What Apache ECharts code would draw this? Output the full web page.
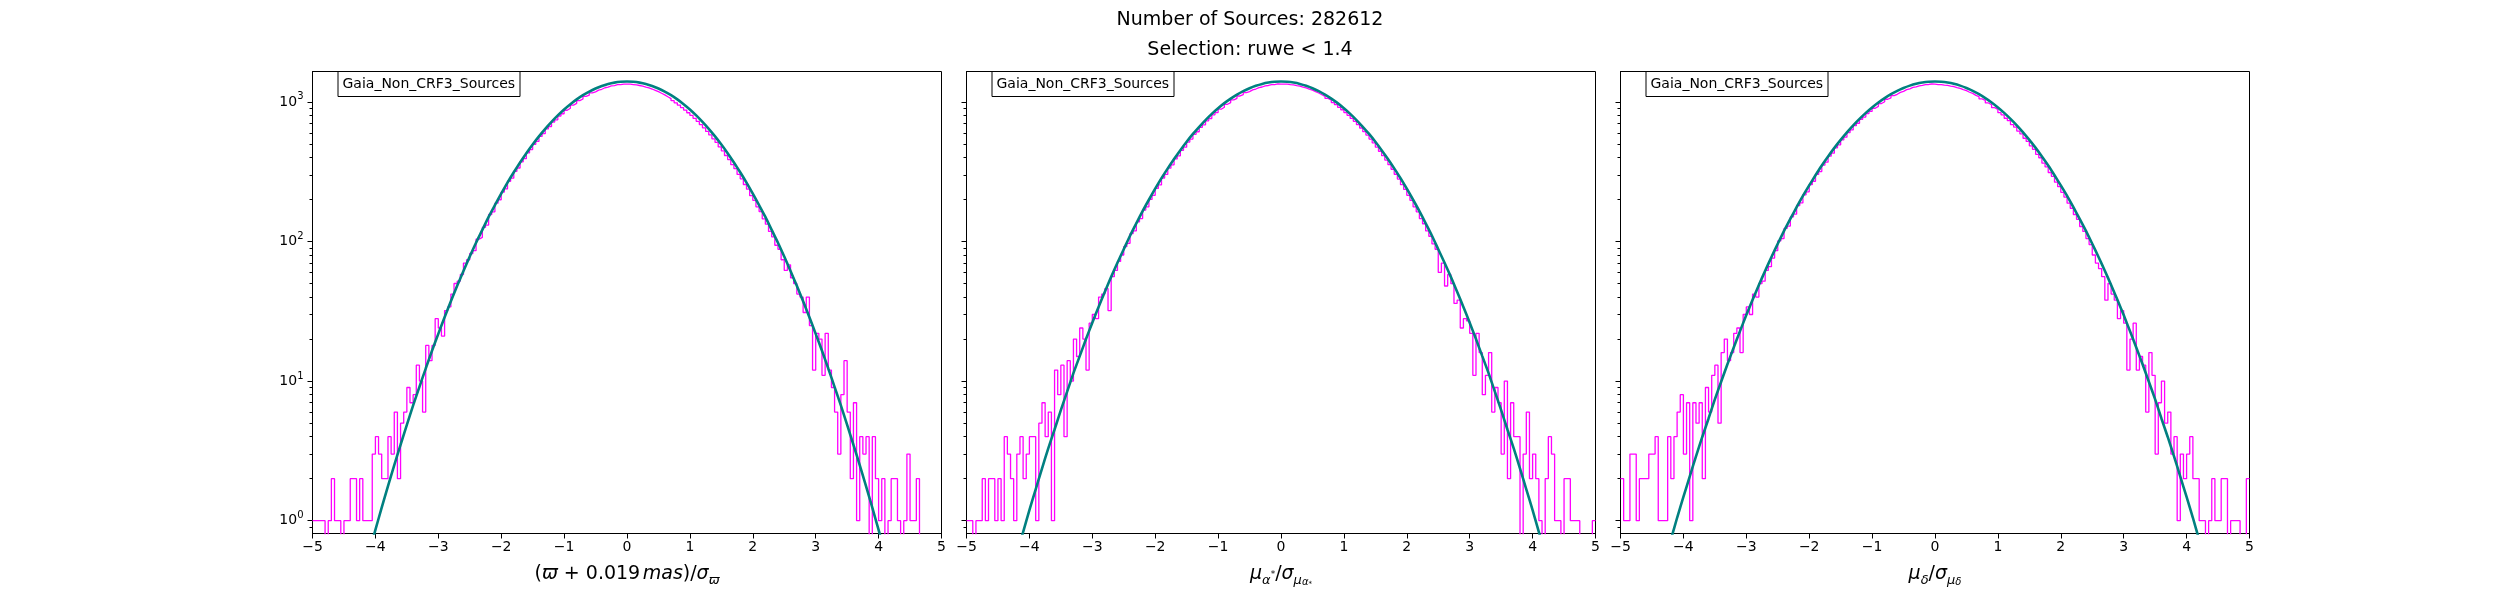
<!DOCTYPE html>
<html>
<head>
<meta charset="utf-8">
<script src="https://cdn.jsdelivr.net/npm/echarts@6/dist/echarts.min.js"></script>
<style>
  html, body { margin: 0; padding: 0; background: #fff; }
  #chart { width: 2500px; height: 600px; }
</style>
</head>
<body>
<div id="chart"></div>
<script>
// histogram range, bins are equal width between these edges
var binLo = -5, binHi = 5;
// fitted curve sampled from fitLo in steps of fitStep
var fitLo = -4.4, fitStep = 0.1;

var suptitleLines = ['Number of Sources: 282612', 'Selection: ruwe < 1.4'];
var boxLabel = 'Gaia_Non_CRF3_Sources';
var xTicks = [-5, -4, -3, -2, -1, 0, 1, 2, 3, 4, 5];
var yMajorTicks = [1, 10, 100, 1000];
var yMinorTicks = [0.9, 2, 3, 4, 5, 6, 7, 8, 9, 20, 30, 40, 50, 60, 70, 80, 90, 200, 300, 400, 500, 600, 700, 800, 900];

// counts per bin, panel 1: parallax
var parallaxCounts = [
  1, 1, 1, 1, 0, 1, 2, 1, 1, 0, 1, 1, 2, 2, 1, 2, 1, 1, 1, 3,
  4, 3, 2, 2, 4, 3, 6, 2, 5, 6, 9, 7, 8, 13, 10, 6, 18, 14, 18, 28,
  24, 21, 32, 34, 42, 50, 52, 58, 70, 74,
  82, 86, 104, 107, 126, 131, 156, 163, 188, 199, 226, 238, 270, 284, 318, 336, 372, 392, 431, 455,
  497, 521, 566, 592, 640, 666, 716, 744, 792, 822, 871, 900, 948, 975, 1022, 1049, 1093, 1117, 1158, 1179,
  1214, 1231, 1262, 1276, 1300, 1309, 1327, 1330, 1342, 1340,
  1338, 1331, 1322, 1310, 1296, 1277, 1259, 1236, 1210, 1183, 1152, 1123, 1088, 1055, 1020, 984, 949, 910, 874, 836,
  799, 762, 725, 688, 652, 614, 580, 544, 512, 476, 446, 413, 386, 355, 332, 302, 281, 256, 237, 213,
  197, 177, 164, 145, 133, 118, 108, 94, 88, 74,
  62, 68, 55, 50, 42, 40, 31, 40, 25, 12, 22, 20, 11, 22, 12, 9, 6, 3, 8, 14,
  6, 2, 7, 1, 4, 3, 4, 0, 4, 2, 1, 2, 0, 1, 2, 2, 1, 0, 1, 3,
  1, 1, 2, 0, 0, 0, 0, 0, 0, 0
];
// panel 2: proper motion in RA
var pmraCounts = [
  1, 1, 0, 1, 1, 2, 1, 2, 2, 1, 2, 1, 4, 3, 2, 1, 3, 4, 2, 3,
  4, 4, 1, 5, 7, 4, 6, 1, 12, 8, 13, 4, 14, 10, 20, 15, 24, 20, 12, 26,
  30, 28, 40, 42, 46, 32, 56, 62, 72, 80,
  92, 97, 114, 119, 138, 146, 168, 177, 200, 214, 240, 254, 285, 302, 335, 354, 390, 411, 450, 474,
  515, 541, 585, 611, 657, 685, 732, 760, 808, 838, 886, 915, 961, 988, 1034, 1060, 1102, 1125, 1163, 1185,
  1219, 1236, 1266, 1278, 1303, 1310, 1329, 1331, 1343, 1341,
  1339, 1338, 1330, 1324, 1309, 1298, 1277, 1260, 1234, 1213, 1183, 1157, 1124, 1095, 1059, 1027, 988, 954, 914, 878,
  838, 801, 761, 725, 686, 650, 612, 578, 541, 508, 474, 443, 412, 383, 355, 329, 303, 280, 255, 236,
  214, 197, 177, 163, 146, 134, 119, 109, 96, 88,
  60, 70, 48, 58, 50, 36, 38, 24, 28, 27, 22, 11, 22, 16, 8, 11, 16, 6, 9, 7,
  3, 10, 2, 7, 4, 4, 0, 3, 6, 2, 3, 2, 1, 0, 2, 4, 3, 1, 1, 0,
  2, 2, 1, 1, 1, 0, 0, 0, 0, 1
];
// panel 3: proper motion in Dec
var pmdecCounts = [
  2, 1, 1, 3, 3, 1, 2, 2, 2, 3, 3, 4, 1, 1, 1, 4, 2, 4, 6, 8,
  3, 7, 1, 7, 5, 7, 2, 9, 6, 11, 13, 5, 16, 20, 14, 16, 22, 24, 16, 30,
  34, 30, 42, 40, 50, 52, 62, 66, 76, 86,
  101, 105, 124, 129, 150, 157, 181, 189, 216, 227, 256, 270, 302, 317, 352, 370, 408, 429, 469, 492,
  534, 559, 603, 630, 675, 703, 750, 778, 825, 854, 900, 928, 973, 1001, 1044, 1069, 1109, 1133, 1169, 1190,
  1223, 1240, 1268, 1280, 1303, 1312, 1329, 1332, 1343, 1341,
  1330, 1327, 1318, 1313, 1297, 1288, 1265, 1250, 1222, 1202, 1172, 1150, 1113, 1090, 1050, 1024, 982, 953, 909, 881,
  837, 808, 763, 733, 688, 660, 618, 589, 549, 521, 484, 457, 421, 398, 364, 342, 312, 293, 266, 247,
  225, 208, 188, 173, 156, 144, 128, 118, 105, 95,
  80, 70, 64, 56, 38, 50, 42, 38, 28, 32, 26, 12, 20, 26, 12, 15, 13, 6, 16, 11,
  3, 7, 10, 5, 6, 3, 4, 1, 3, 2, 3, 4, 2, 2, 1, 1, 0, 1, 2, 1,
  1, 2, 2, 0, 1, 1, 1, 0, 0, 2
];

// fitted curves (teal), from -4.4 to 4.4
var parallaxFit = [
  0.18, 0.27, 0.4, 0.59, 0.86, 1.24, 1.77, 2.5, 3.5, 4.86, 6.7, 9.1, 12.3, 16.5, 21.8, 28.7, 37.3, 48.1, 61.5, 78,
  98, 121, 150, 182, 220, 264, 313, 368, 429, 495, 566, 641, 719, 800, 882, 962, 1041, 1116, 1185, 1247,
  1300, 1343, 1374, 1393, 1400, 1393, 1374, 1343, 1300, 1247, 1185, 1116, 1041, 962, 882, 800, 719, 641, 566, 495,
  429, 368, 313, 264, 220, 182, 150, 121, 98, 78, 61.5, 48.1, 37.3, 28.7, 21.8, 16.5, 12.3, 9.1, 6.7, 4.86,
  3.5, 2.5, 1.77, 1.24, 0.86, 0.59, 0.4, 0.27, 0.18
];
var pmraFit = [
  0.27, 0.39, 0.57, 0.83, 1.19, 1.68, 2.36, 3.3, 4.5, 6.2, 8.4, 11.4, 15.1, 20, 26.2, 34, 43.7, 55.8, 70.5, 88,
  110, 135, 165, 199, 239, 284, 334, 390, 451, 518, 589, 663, 741, 820, 900, 979, 1055, 1127, 1194, 1253,
  1304, 1345, 1375, 1394, 1400, 1394, 1375, 1345, 1304, 1253, 1194, 1127, 1055, 979, 900, 820, 741, 663, 589, 518,
  451, 390, 334, 284, 239, 199, 165, 135, 110, 88, 70.5, 55.8, 43.7, 34, 26.2, 20, 15.1, 11.4, 8.4, 6.2,
  4.5, 3.3, 2.36, 1.68, 1.19, 0.83, 0.57, 0.39, 0.27
];
var pmdecFit = [
  0.35, 0.51, 0.73, 1.05, 1.48, 2.07, 2.89, 3.98, 5.4, 7.4, 9.9, 13.2, 17.4, 22.8, 29.7, 38.2, 48.8, 61.7, 77.4, 96.3,
  119, 145, 176, 212, 252, 298, 350, 406, 468, 534, 605, 679, 755, 834, 912, 990, 1064, 1134, 1200, 1258,
  1307, 1347, 1376, 1394, 1400, 1394, 1376, 1347, 1307, 1258, 1200, 1134, 1064, 990, 912, 834, 755, 679, 605, 534,
  468, 406, 350, 298, 252, 212, 176, 145, 119, 96.3, 77.4, 61.7, 48.8, 38.2, 29.7, 22.8, 17.4, 13.2, 9.9, 7.4,
  5.4, 3.98, 2.89, 2.07, 1.48, 1.05, 0.73, 0.51, 0.35
];

var xNames = [
  '({i|\u03d6} + 0.019{t| }{i|mas})/{i|\u03c3}{s|\u03d6}',
  '{i|\u03bc}{s|\u03b1}{sp|*}/{i|\u03c3}{s|\u03bc}{ss|\u03b1}{ssp|*}',
  '{i|\u03bc}{s|\u03b4}/{i|\u03c3}{s|\u03bc}{ss|\u03b4}'
];

var FONT = 'DejaVu Sans';
var countsList = [parallaxCounts, pmraCounts, pmdecCounts];
var fitList = [parallaxFit, pmraFit, pmdecFit];
// half-pixel offsets keep the 1px frame crisp
var gridLefts = [312.5, 966.5, 1620.5];

// empty bins sit far below the axis so the step line drops out of the frame
function histPoints(counts) {
  var n = counts.length, w = (binHi - binLo) / n, pts = [];
  for (var k = 0; k < n; k++) pts.push([binLo + k * w, counts[k] > 0 ? counts[k] : 0.01]);
  pts.push([binHi, counts[n - 1] > 0 ? counts[n - 1] : 0.01]);
  return pts;
}
function fitPoints(vals) {
  return vals.map(function (v, i) { return [+(fitLo + i * fitStep).toFixed(2), v]; });
}

var nameRich = {
  i: { fontFamily: FONT, fontStyle: 'italic', fontSize: 19, lineHeight: 26, color: '#000' },
  t: { fontFamily: FONT, fontSize: 8, lineHeight: 26 },
  s: { fontFamily: FONT, fontStyle: 'italic', fontSize: 13, lineHeight: 13, verticalAlign: 'bottom', color: '#000' },
  sp: { fontFamily: FONT, fontSize: 9, lineHeight: 9, verticalAlign: 'middle', color: '#000' },
  ss: { fontFamily: FONT, fontStyle: 'italic', fontSize: 10, lineHeight: 6, verticalAlign: 'bottom', color: '#000' },
  ssp: { fontFamily: FONT, fontSize: 7, lineHeight: 16, verticalAlign: 'bottom', color: '#000' }
};

var grids = [], xAxes = [], yAxes = [], series = [], titles = [];

titles.push({
  text: suptitleLines[0], left: 'center', top: 8, padding: 0,
  textStyle: { fontFamily: FONT, fontSize: 19, fontWeight: 'normal', color: '#000', lineHeight: 24 }
});
titles.push({
  text: suptitleLines[1], left: 'center', top: 38, padding: 0,
  textStyle: { fontFamily: FONT, fontSize: 19, fontWeight: 'normal', color: '#000', lineHeight: 24 }
});

for (var g = 0; g < 3; g++) {
  grids.push({
    left: gridLefts[g], top: 71.5, width: 629, height: 462,
    show: true, borderColor: '#000', borderWidth: 1, backgroundColor: 'transparent',
    outerBoundsMode: 'none'
  });
  xAxes.push({
    gridIndex: g, type: 'value', position: 'bottom', min: -5, max: 5, interval: 1,
    splitLine: { show: false },
    axisLine: { onZero: false, lineStyle: { color: '#000', width: 1 } },
    axisTick: { inside: false, length: 5, lineStyle: { color: '#000' }, customValues: xTicks },
    axisLabel: {
      customValues: xTicks,
      fontFamily: FONT, fontSize: 14, color: '#000', margin: 7,
      formatter: function (v) { return v < 0 ? '\u2212' + (-v) : String(v); }
    },
    name: xNames[g], nameLocation: 'middle', nameGap: 28,
    nameTextStyle: { fontFamily: FONT, fontSize: 19, color: '#000', lineHeight: 26, rich: nameRich }
  });
  // major log ticks with labels
  yAxes.push({
    gridIndex: g, type: 'log', logBase: 10, min: 0.81, max: 1650, position: 'left',
    splitLine: { show: false },
    axisLine: { onZero: false, lineStyle: { color: '#000', width: 1 } },
    axisTick: { length: 5, lineStyle: { color: '#000' }, customValues: yMajorTicks },
    axisLabel: {
      show: g === 0, customValues: yMajorTicks,
      fontFamily: FONT, fontSize: 14, color: '#000', margin: 9, lineHeight: 20,
      formatter: function (v) { return '10{e|' + Math.round(Math.log10(v)) + '}'; },
      rich: { e: { fontFamily: FONT, fontSize: 10, lineHeight: 10, verticalAlign: 'top', color: '#000' } }
    }
  });
  // minor log ticks (2..9 x 10^k), same side
  yAxes.push({
    gridIndex: g, type: 'log', logBase: 10, min: 0.81, max: 1650, position: 'left', offset: 0,
    splitLine: { show: false },
    axisLine: { show: false, onZero: false },
    axisTick: { length: 3, lineStyle: { color: '#000' }, customValues: yMinorTicks },
    axisLabel: { show: false }
  });
  titles.push({
    text: boxLabel, left: gridLefts[g] + 25, top: 71,
    padding: [5, 5], borderColor: '#000', borderWidth: 1, backgroundColor: '#fff',
    textStyle: { fontFamily: FONT, fontSize: 14, fontWeight: 'normal', color: '#000', lineHeight: 16 }
  });
  series.push({
    type: 'line', xAxisIndex: g, yAxisIndex: 2 * g,
    data: histPoints(countsList[g]), step: 'end',
    showSymbol: false, symbol: 'none', clip: true,
    lineStyle: { color: '#ff00ff', width: 1.3 }
  });
  series.push({
    type: 'line', xAxisIndex: g, yAxisIndex: 2 * g,
    data: fitPoints(fitList[g]), smooth: 0.2,
    showSymbol: false, symbol: 'none', clip: true,
    lineStyle: { color: '#008080', width: 2.6 }
  });
}

var myChart = echarts.init(document.getElementById('chart'));
myChart.setOption({
  animation: false,
  backgroundColor: '#fff',
  title: titles,
  grid: grids,
  xAxis: xAxes,
  yAxis: yAxes,
  series: series
});
</script>
</body>
</html>
